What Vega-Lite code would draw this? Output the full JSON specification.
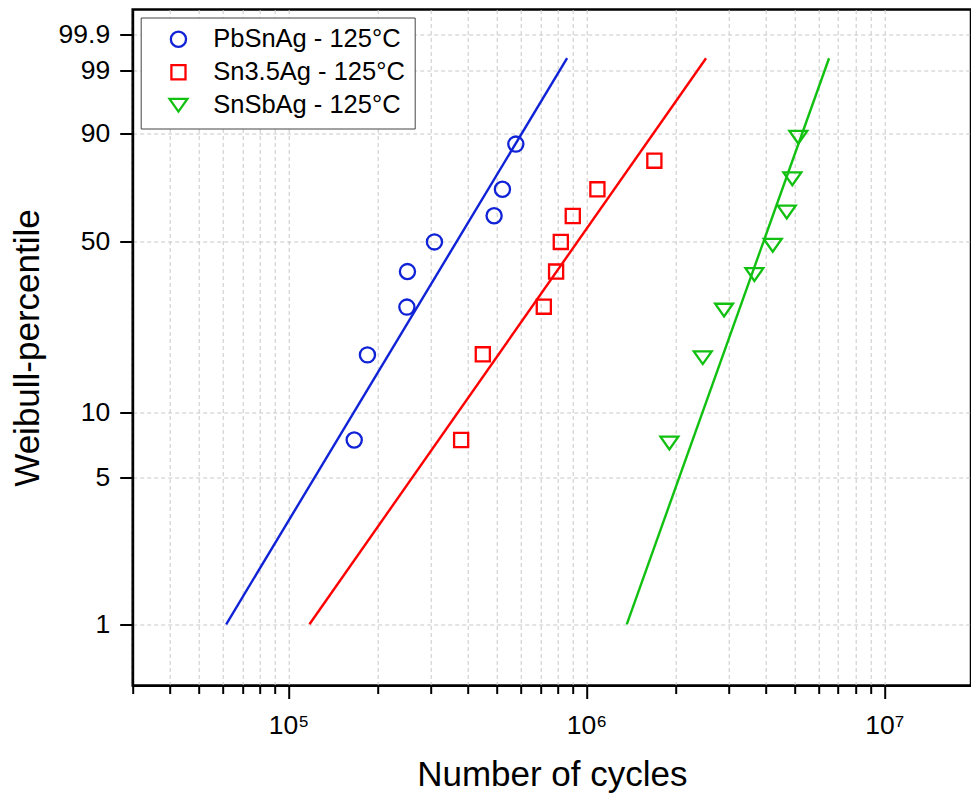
{
  "$schema": "https://vega.github.io/schema/vega-lite/v6.json",
  "width": 838.3,
  "height": 676,
  "autosize": {"type": "none"},
  "padding": {"left": 132.7, "top": 9.5, "right": 0, "bottom": 113.5},
  "background": "white",
  "config": {
    "font": "Liberation Sans",
    "view": {"stroke": "black", "strokeWidth": 2.5},
    "axis": {
      "domainColor": "black", "domainWidth": 2,
      "tickColor": "black", "tickWidth": 2,
      "labelColor": "black", "labelFont": "Liberation Sans", "labelFontSize": 26.5,
      "titleColor": "black", "titleFont": "Liberation Sans", "titleFontSize": 35, "titleFontWeight": "normal",
      "gridColor": "#c8c8c8", "gridDash": [4, 3], "gridWidth": 1, "gridOpacity": 1
    }
  },
  "datasets": {
    "points": [
      {"series": "PbSnAg - 125°C", "cycles": 166200, "pct": 7.44},
      {"series": "PbSnAg - 125°C", "cycles": 184100, "pct": 18.0},
      {"series": "PbSnAg - 125°C", "cycles": 249700, "pct": 28.6},
      {"series": "PbSnAg - 125°C", "cycles": 250800, "pct": 39.3},
      {"series": "PbSnAg - 125°C", "cycles": 309000, "pct": 50.0},
      {"series": "PbSnAg - 125°C", "cycles": 490000, "pct": 60.4},
      {"series": "PbSnAg - 125°C", "cycles": 522600, "pct": 71.1},
      {"series": "PbSnAg - 125°C", "cycles": 579600, "pct": 87.1},
      {"series": "Sn3.5Ag - 125°C", "cycles": 379800, "pct": 7.44},
      {"series": "Sn3.5Ag - 125°C", "cycles": 449100, "pct": 18.1},
      {"series": "Sn3.5Ag - 125°C", "cycles": 719500, "pct": 28.7},
      {"series": "Sn3.5Ag - 125°C", "cycles": 791200, "pct": 39.3},
      {"series": "Sn3.5Ag - 125°C", "cycles": 820500, "pct": 50.0},
      {"series": "Sn3.5Ag - 125°C", "cycles": 900100, "pct": 60.3},
      {"series": "Sn3.5Ag - 125°C", "cycles": 1088700, "pct": 71.1},
      {"series": "Sn3.5Ag - 125°C", "cycles": 1691000, "pct": 81.8},
      {"series": "SnSbAg - 125°C", "cycles": 1899000, "pct": 7.2},
      {"series": "SnSbAg - 125°C", "cycles": 2458000, "pct": 17.5},
      {"series": "SnSbAg - 125°C", "cycles": 2898000, "pct": 27.8},
      {"series": "SnSbAg - 125°C", "cycles": 3663000, "pct": 38.3},
      {"series": "SnSbAg - 125°C", "cycles": 4222000, "pct": 48.7},
      {"series": "SnSbAg - 125°C", "cycles": 4704000, "pct": 61.9},
      {"series": "SnSbAg - 125°C", "cycles": 4912000, "pct": 75.2},
      {"series": "SnSbAg - 125°C", "cycles": 5144000, "pct": 89.0}
    ],
    "fits": [
      {"series": "PbSnAg - 125°C", "cycles": 61790, "pct": 1},
      {"series": "PbSnAg - 125°C", "cycles": 861400, "pct": 99.5},
      {"series": "Sn3.5Ag - 125°C", "cycles": 117600, "pct": 1},
      {"series": "Sn3.5Ag - 125°C", "cycles": 2521000, "pct": 99.5},
      {"series": "SnSbAg - 125°C", "cycles": 1366000, "pct": 1},
      {"series": "SnSbAg - 125°C", "cycles": 6523000, "pct": 99.5}
    ]
  },
  "layer": [
    {
      "data": {"name": "points"},
      "transform": [{"calculate": "log(-log(1 - datum.pct / 100))", "as": "weibull"}],
      "mark": {"type": "point", "filled": false, "strokeWidth": 2.3, "size": 230, "opacity": 1},
      "encoding": {
        "x": {
          "field": "cycles", "type": "quantitative",
          "scale": {"type": "log", "domain": [30000, 19540000], "nice": false},
          "axis": {
            "title": "Number of cycles",
            "titlePadding": 18,
            "values": [30000, 40000, 50000, 60000, 70000, 80000, 90000,
                       100000, 200000, 300000, 400000, 500000, 600000, 700000, 800000, 900000,
                       1000000, 2000000, 3000000, 4000000, 5000000, 6000000, 7000000, 8000000, 9000000,
                       10000000],
            "labelExpr": "datum.value == 100000 ? '10⁵' : datum.value == 1000000 ? '10⁶' : datum.value == 10000000 ? '10⁷' : ''",
            "labelOverlap": false,
            "labelFlush": false,
            "labelPadding": 14,
            "tickSize": {"condition": {"test": "datum.value == 100000 || datum.value == 1000000 || datum.value == 10000000", "value": 13}, "value": 8},
            "grid": true
          }
        },
        "y": {
          "field": "weibull", "type": "quantitative",
          "scale": {"domain": [-5.278, 2.207], "nice": false, "zero": false},
          "axis": {
            "title": "Weibull-percentile",
            "titlePadding": 13,
            "values": [-4.60015, -2.97020, -2.25037, -0.36651, 0.83403, 1.52718, 1.93264],
            "labelExpr": "format(100 * (1 - exp(-exp(datum.value))), '.3~r')",
            "tickSize": 13,
            "labelPadding": 10,
            "grid": true
          }
        },
        "color": {
          "field": "series", "type": "nominal",
          "scale": {"domain": ["PbSnAg - 125°C", "Sn3.5Ag - 125°C", "SnSbAg - 125°C"], "range": ["#0f22d6", "#ff0000", "#11c011"]},
          "legend": {
            "title": null, "orient": "top-left", "offset": 8,
            "labelFontSize": 25.5, "labelColor": "black", "labelLimit": 400,
            "symbolSize": 230, "symbolStrokeWidth": 2.3,
            "fillColor": "white", "strokeColor": "#444444",
            "padding": 9, "rowPadding": 6,
            "symbolOffset": 16, "labelOffset": 22
          }
        },
        "shape": {
          "field": "series", "type": "nominal",
          "scale": {"domain": ["PbSnAg - 125°C", "Sn3.5Ag - 125°C", "SnSbAg - 125°C"],
                    "range": ["circle", "M-0.93,-0.93L0.93,-0.93L0.93,0.93L-0.93,0.93Z", "M-1.18,-0.84L1.18,-0.84L0,0.84Z"]}
        }
      }
    },
    {
      "data": {"name": "fits"},
      "transform": [{"calculate": "log(-log(1 - datum.pct / 100))", "as": "weibull"}],
      "mark": {"type": "line", "strokeWidth": 2.4},
      "encoding": {
        "x": {"field": "cycles", "type": "quantitative"},
        "y": {"field": "weibull", "type": "quantitative"},
        "stroke": {
          "field": "series", "type": "nominal",
          "scale": {"domain": ["PbSnAg - 125°C", "Sn3.5Ag - 125°C", "SnSbAg - 125°C"], "range": ["#0f22d6", "#ff0000", "#11c011"]},
          "legend": null
        }
      }
    }
  ]
}
